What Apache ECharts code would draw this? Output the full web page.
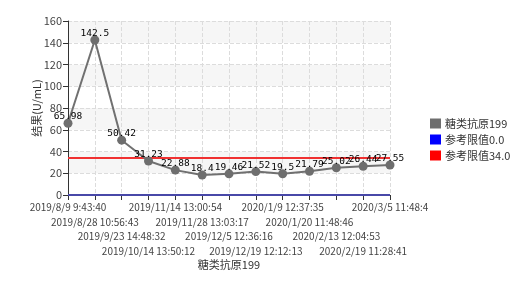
<!DOCTYPE html>
<html><head><meta charset="utf-8">
<script src="https://cdn.jsdelivr.net/npm/echarts@6/dist/echarts.min.js"></script>
<style>html,body{margin:0;padding:0;background:#fff}#c{width:527px;height:281px}</style>
</head><body><div id="c"></div>
<script>
var categories = ['2019/8/9 9:43:40','2019/8/28 10:56:43','2019/9/23 14:48:32','2019/10/14 13:50:12','2019/11/14 13:00:54','2019/11/28 13:03:17','2019/12/5 12:36:16','2019/12/19 12:12:13','2020/1/9 12:37:35','2020/1/20 11:48:46','2020/2/13 12:04:53','2020/2/19 11:28:41','2020/3/5 11:48:4'];
var values = [65.98,142.5,50.42,31.23,22.88,18.4,19.46,21.52,19.5,21.79,25.02,26.44,27.55];
var lowerLimit = 0.0;
var upperLimit = 34.0;
var seriesNames = ['糖类抗原199','参考限值0.0','参考限值34.0'];

var chart = echarts.init(document.getElementById('c'));
var font = '"Noto Sans CJK SC", sans-serif';
chart.setOption({
  animation: false,
  color: ['#6e6e6e','#0000ff','#ff0000'],
  legend: {
    orient: 'vertical', left: 430, top: 118, padding: 0,
    itemWidth: 11, itemHeight: 10, itemGap: 5,
    icon: 'rect',
    textStyle: {fontFamily: font, fontSize: 11, color: '#333', padding: [0, 0, 0, -1]},
    data: seriesNames
  },
  grid: {left: 68, right: 137, top: 21, bottom: 86, containLabel: false, outerBoundsMode: 'none'},
  xAxis: {
    type: 'category', data: categories, boundaryGap: false,
    name: seriesNames[0], nameLocation: 'middle', nameGap: 64, nameMoveOverlap: false,
    nameTextStyle: {fontFamily: font, fontSize: 11, color: '#333'},
    axisLine: {lineStyle: {color: '#333'}},
    axisTick: {show: true, interval: 0, lineStyle: {color: '#333'}},
    axisLabel: {interval: 0, margin: 5, fontFamily: font, fontSize: 10, color: '#444', lineHeight: 14.5,
      formatter: function (v, i) { return '\n'.repeat(i % 4) + v; }},
    splitLine: {show: true, interval: 0, lineStyle: {color: '#dcdcdc', type: 'dashed'}}
  },
  yAxis: {
    type: 'value', min: 0, max: 160, interval: 20,
    name: '结果(U/mL)', nameLocation: 'middle', nameGap: 26, nameMoveOverlap: false,
    nameTextStyle: {fontFamily: font, fontSize: 11, color: '#333'},
    axisLine: {show: true, lineStyle: {color: '#333'}},
    axisTick: {show: true, lineStyle: {color: '#333'}},
    axisLabel: {fontFamily: font, fontSize: 11, color: '#444', margin: 6},
    splitLine: {show: true, lineStyle: {color: '#dcdcdc', type: 'dashed'}},
    splitArea: {show: true, areaStyle: {color: ['#ffffff', '#f6f6f6']}}
  },
  series: [
    {
      name: seriesNames[0], type: 'line', data: values, z: 4,
      symbol: 'circle', symbolSize: 9,
      lineStyle: {width: 2, color: '#707070'},
      itemStyle: {color: '#6e6e6e'},
      label: {show: true, position: 'top', distance: 0, offset: [0, 3], color: '#000',
        fontFamily: '"DejaVu Sans Mono", monospace', fontSize: 9.5}
    },
    {
      name: seriesNames[1], type: 'line', data: categories.map(function(){return lowerLimit;}),
      symbol: 'none', lineStyle: {width: 2, color: '#4848a8'}, itemStyle: {color: '#0000ff'}
    },
    {
      name: seriesNames[2], type: 'line', data: categories.map(function(){return upperLimit;}), z: 3,
      symbol: 'none', lineStyle: {width: 2, color: '#f03030'}, itemStyle: {color: '#ff0000'}
    }
  ]
});
</script></body></html>
